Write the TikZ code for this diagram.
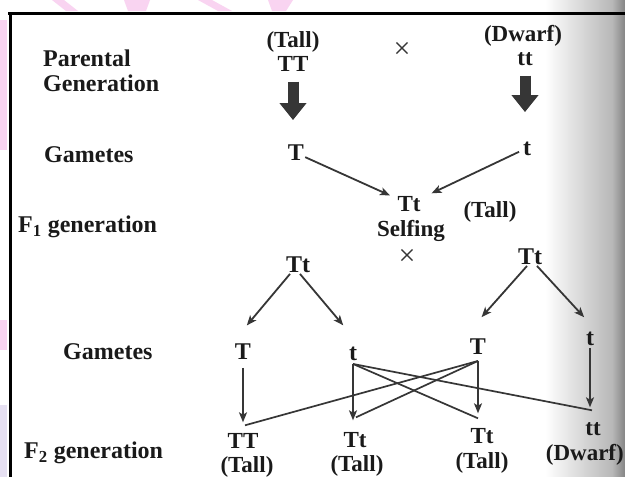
\documentclass[tikz,border=0pt]{standalone}
\usepackage{fontspec}
\setmainfont{Liberation Serif}
\usetikzlibrary{arrows.meta,calc}
\definecolor{ink}{HTML}{1A1A1A}
\definecolor{arrowgray}{HTML}{363636}
\definecolor{wmpink}{HTML}{F9D4F1}
\definecolor{wmlav}{HTML}{E6E0F2}
\begin{document}
\begin{tikzpicture}[x=1pt,y=-1pt,
  font=\fontsize{24}{28}\selectfont\bfseries,
  txt/.style={inner sep=1pt, text height=15.5pt, text depth=0pt, text=ink},
  stk/.style={txt, font=\fontsize{23}{27}\selectfont\bfseries, inner sep=0pt, text height=15pt},
  lbl/.style={txt, anchor=west},
  times/.style={txt, font=\fontsize{30}{34}\selectfont, text=arrowgray},
  arr/.style={draw=arrowgray, line width=1.8pt, -{Stealth[length=10pt,width=8pt,inset=2.5pt]}},
  crossline/.style={draw=arrowgray, line width=1.7pt},
  fat/.style={draw=arrowgray, line width=11pt, -{Triangle[length=17pt,width=26pt]}}]
\useasboundingbox (0,0) rectangle (625,477);
\clip (0,0) rectangle (625,477);
\fill[white] (0,0) rectangle (625,477);
% watermark traces and page shadow
\fill[wmpink] (0,20) rectangle (7,150);
\fill[wmpink] (0,320) rectangle (7,350);
\fill[wmlav] (0,405) rectangle (7,477);
\fill[wmpink] (52,0) -- (64,0) -- (78,11) -- (66,11) -- cycle;
\fill[wmpink] (124,0) -- (150,0) -- (146,11) -- (128,11) -- cycle;
\fill[wmpink] (198,0) -- (212,0) -- (232,11) -- (218,11) -- cycle;
\fill[wmpink] (268,0) -- (293,0) -- (286,11) -- (272,11) -- cycle;
\shade[left color=white, right color=black!28] (545,0) rectangle (612,477);
\shade[left color=black!28, right color=black!48] (612,0) rectangle (625,477);
% frame
\draw[line width=3pt, black] (8,13) -- (625,13);
\draw[line width=3pt, black] (10,12) -- (10,477);

% labels
\node[lbl] (lpar) at (42,59) {Parental};
\node[lbl] (lgen) at (42,84) {Generation};
\node[lbl] (lgam1) at (43,155) {Gametes};
\node[lbl] (lf1) at (17,225) {F\textsubscript{1} generation};
\node[lbl] (lgam2) at (62,352) {Gametes};
\node[lbl] (lf2) at (23,451) {F\textsubscript{2} generation};

% parents
\node[stk] (tallP) at (293,40) {(Tall)};
\node[stk] (TTP) at (293,64) {TT};
\node[times] (x1) at (402,51) {×};
\node[stk] (dwarfP) at (523,34) {(Dwarf)};
\node[stk] (ttP) at (525,58) {tt};

% gametes 1
\node[txt] (gT) at (296,153) {T};
\node[txt] (gt) at (527,148) {t};

% F1
\node[stk] (f1) at (409,204) {Tt};
\node[stk] (self) at (411,229) {Selfing};
\node[stk] (tallF1) at (490,210) {(Tall)};
\node[times] (x2) at (407,258) {×};
\node[txt] (TtL) at (298,265) {Tt};
\node[txt] (TtR) at (530,257) {Tt};

% gametes 2
\node[txt] (g2a) at (243,352) {T};
\node[txt] (g2b) at (353,353) {t};
\node[txt] (g2c) at (478,347) {T};
\node[txt] (g2d) at (590,338) {t};

% F2
\node[stk] (f2a) at (243,441) {TT};
\node[stk] (f2aP) at (247,465) {(Tall)};
\node[stk] (f2b) at (355,440) {Tt};
\node[stk] (f2bP) at (357,464) {(Tall)};
\node[stk] (f2c) at (482,436) {Tt};
\node[stk] (f2cP) at (482,461) {(Tall)};
\node[stk] (f2d) at (593,428) {tt};
\node[stk, anchor=east] (f2dP) at (624,453) {(Dwarf)};

% connectors
\draw[fat, shorten <=10pt, shorten >=24pt] (TTP.south) -- (TTP.south |- gT.north);
\draw[fat, shorten <=10pt, shorten >=27pt] (ttP.south) -- (ttP.south |- gt.north);
\draw[arr, shorten >=8pt] (gT) -- (f1);
\draw[arr, shorten <=3pt, shorten >=12pt] (gt) -- (f1);

\draw[arr, shorten >=23pt] ([xshift=-8pt]TtL.south) -- ([xshift=-11pt]g2a.north);
\draw[arr, shorten >=24.5pt] ([xshift=2pt]TtL.south) -- ([xshift=6pt]g2b.north);
\draw[arr, shorten >=28pt] ([xshift=-3pt]TtR.south) -- ([xshift=-15pt]g2c.north);
\draw[arr, shorten >=16pt] ([xshift=7pt]TtR.south) -- ([xshift=5pt]g2d.north);

\coordinate (s1) at ($(g2a.south)+(0,7)$);
\coordinate (s2) at ($(g2b.south)+(0,2)$);
\coordinate (s3) at ($(g2c.south)+(0,5)$);
\coordinate (s4) at ($(g2d.south)+(0,1)$);
\coordinate (t1) at ($(f2a.north)+(0,-11)$);
\coordinate (t2) at ($(g2b |- f2b.north)+(0,-12)$);
\coordinate (t3) at ($(g2c |- f2c.north)+(0,-15)$);
\coordinate (t4) at ($(g2d |- f2d.north)+(0,-13)$);

\draw[arr] (s1) -- (t1);
\draw[arr] (s2) -- (t2);
\draw[arr] (s3) -- (t3);
\draw[arr] (s4) -- (t4);
\draw[crossline] (s3) -- ($(t1)+(2,3)$);
\draw[crossline] (s3) -- ($(t2)+(3,-3)$);
\draw[crossline] (s2) -- ($(t3)+(0,5)$);
\draw[crossline] (s2) -- ($(t4)+(2,3)$);
\end{tikzpicture}
\end{document}
